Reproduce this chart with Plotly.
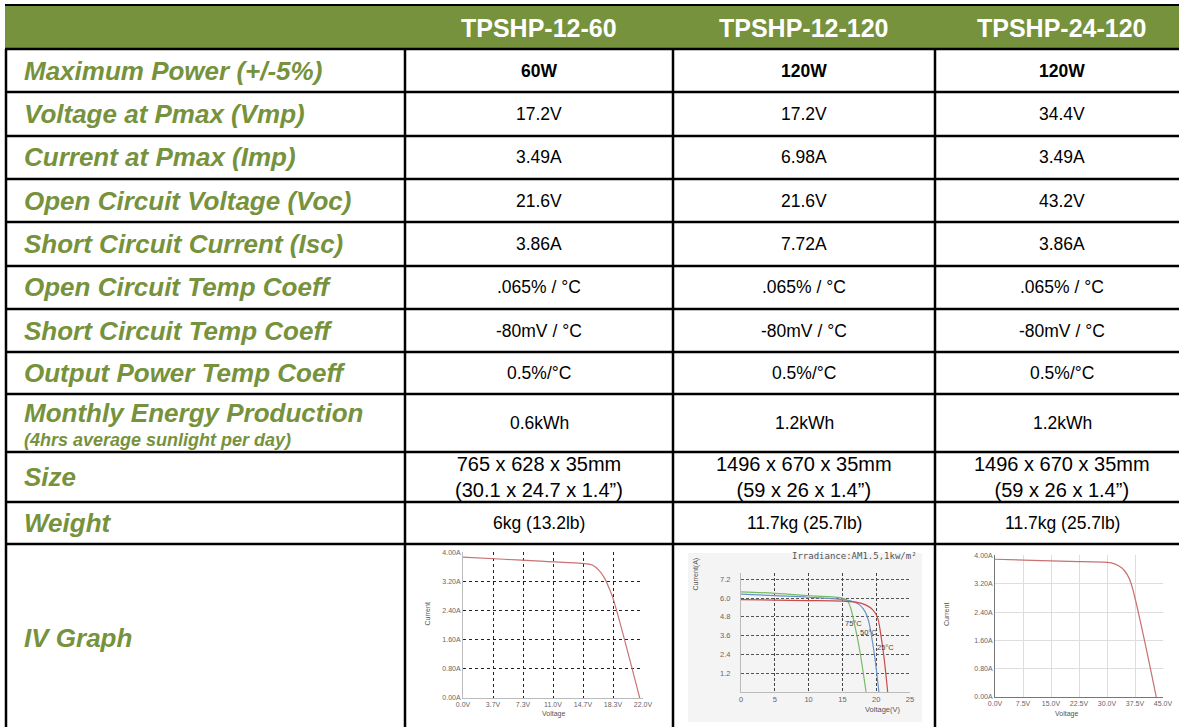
import plotly.graph_objects as go

W, H = 1179, 727

# ---------------- data ----------------
models = ["TPSHP-12-60", "TPSHP-12-120", "TPSHP-24-120"]
spec_labels = ["Maximum Power (+/-5%)", "Voltage at Pmax (Vmp)", "Current at Pmax (Imp)",
               "Open Circuit Voltage (Voc)", "Short Circuit Current (Isc)",
               "Open Circuit Temp Coeff", "Short Circuit Temp Coeff", "Output Power Temp Coeff",
               "Monthly Energy Production", "Size", "Weight", "IV Graph"]
spec_note = "(4hrs average sunlight per day)"
vals_12_60 = ["60W", "17.2V", "3.49A", "21.6V", "3.86A", ".065% / °C", "-80mV / °C", "0.5%/°C",
              "0.6kWh", "765 x 628 x 35mm<br>(30.1 x 24.7 x 1.4”)", "6kg (13.2lb)"]
vals_12_120 = ["120W", "17.2V", "6.98A", "21.6V", "7.72A", ".065% / °C", "-80mV / °C", "0.5%/°C",
               "1.2kWh", "1496 x 670 x 35mm<br>(59 x 26 x 1.4”)", "11.7kg (25.7lb)"]
vals_24_120 = ["120W", "34.4V", "3.49A", "43.2V", "3.86A", ".065% / °C", "-80mV / °C", "0.5%/°C",
               "1.2kWh", "1496 x 670 x 35mm<br>(59 x 26 x 1.4”)", "11.7kg (25.7lb)"]

# IV graph 1 (TPSHP-12-60)
iv1_v = [0, 5, 10, 14.9, 15.8, 16.6, 17.3, 17.9, 18.3, 21.6]
iv1_i = [3.88, 3.82, 3.76, 3.70, 3.66, 3.52, 3.30, 3.00, 2.77, 0]
iv1_xticks = ["0.0V", "3.7V", "7.3V", "11.0V", "14.7V", "18.3V", "22.0V"]
iv1_xvals = [0, 3.667, 7.333, 11.0, 14.667, 18.333, 22.0]
iv_yticks = ["0.00A", "0.80A", "1.60A", "2.40A", "3.20A", "4.00A"]
iv_yvals = [0, 0.8, 1.6, 2.4, 3.2, 4.0]

# IV graph 2 (TPSHP-12-120), temperature curves
t25_v = [0, 5, 10, 15, 17, 18.5, 19.5, 20.2, 20.7, 21.1, 21.7]
t25_i = [5.90, 5.87, 5.84, 5.80, 5.74, 5.55, 5.25, 4.75, 3.6, 2.4, 0]
t50_v = [0, 5, 10, 15, 16.5, 17.6, 18.4, 18.9, 19.3, 19.8, 20.4]
t50_i = [6.25, 6.15, 6.05, 5.90, 5.78, 5.55, 5.1, 4.5, 3.6, 2.2, 0]
t75_v = [0, 5, 10, 15, 15.7, 16.2, 16.7, 17.2, 17.7, 18.5]
t75_i = [6.40, 6.30, 6.15, 6.00, 5.85, 5.40, 4.50, 3.50, 2.30, 0]
iv2_xvals = [0, 5, 10, 15, 20, 25]
iv2_yvals = [1.2, 2.4, 3.6, 4.8, 6.0, 7.2]
iv2_yticks = ["1.2", "2.4", "3.6", "4.8", "6.0", "7.2"]
temp_labels = ["75°C", "50°C", "25°C"]
temp_label_pos = [(16.6, 4.35), (18.8, 3.8), (21.4, 2.85)]

# IV graph 3 (TPSHP-24-120)
iv3_v = [0, 10, 20, 30, 32, 34, 35.5, 36.5, 43.2]
iv3_i = [3.90, 3.87, 3.84, 3.81, 3.77, 3.65, 3.45, 3.20, 0]
iv3_xticks = ["0.0V", "7.5V", "15.0V", "22.5V", "30.0V", "37.5V", "45.0V"]
iv3_xvals = [0, 7.5, 15, 22.5, 30, 37.5, 45]

# ---------------- layout helpers ----------------
GREEN = "#76923C"
FONT = "Arial, Liberation Sans, sans-serif"


def fx(x):
    return x / W


def fy(y):
    return 1 - y / H


row_edges = [49, 92, 136, 179, 222, 266, 309, 352, 394, 452, 502, 544, 727]
col_edges = [6, 405, 673, 935, 1189]
col_centers = [(col_edges[i] + col_edges[i + 1]) / 2 for i in range(1, 4)]

fig = go.Figure()
shapes = []
ann = []

# header band
shapes.append(dict(type="rect", xref="paper", yref="paper", x0=fx(5), x1=fx(1179),
                   y0=fy(49), y1=fy(5), fillcolor=GREEN, line_width=0, layer="below"))
# IV graph 2 light image background
shapes.append(dict(type="rect", xref="paper", yref="paper", x0=fx(688), x1=fx(922),
                   y0=fy(722), y1=fy(553), fillcolor="#f4f4f4", line_width=0, layer="below"))
# horizontal rules
shapes.append(dict(type="line", xref="paper", yref="paper", x0=fx(5), x1=fx(1179),
                   y0=fy(5), y1=fy(5), line=dict(color="black", width=2)))
for y in row_edges[:-1]:
    shapes.append(dict(type="line", xref="paper", yref="paper", x0=fx(5), x1=fx(1179),
                       y0=fy(y), y1=fy(y), line=dict(color="black", width=2.5)))
# vertical rules
for x in col_edges[:-1]:
    shapes.append(dict(type="line", xref="paper", yref="paper", x0=fx(x), x1=fx(x),
                       y0=fy(49), y1=fy(727), line=dict(color="black", width=2.5)))

# header texts
for name, cx in zip(models, col_centers):
    ann.append(dict(text=f"<b>{name}</b>", x=fx(cx), y=fy(28), xref="paper", yref="paper",
                    showarrow=False, font=dict(family=FONT, size=25, color="white"),
                    xanchor="center", yanchor="middle"))

# spec labels
for i, lab in enumerate(spec_labels):
    y0, y1 = row_edges[i], row_edges[i + 1]
    cy = (y0 + y1) / 2
    if lab.startswith("Monthly"):
        cy = 413
        ann.append(dict(text=f"<b><i>{spec_note}</i></b>", x=fx(22), y=fy(440), xref="paper",
                        yref="paper", showarrow=False, xanchor="left", yanchor="middle",
                        font=dict(family=FONT, size=18, color=GREEN)))
    if lab == "IV Graph":
        cy = 638
    ann.append(dict(text=f"<b><i>{lab}</i></b>", x=fx(22), y=fy(cy), xref="paper", yref="paper",
                    showarrow=False, xanchor="left", yanchor="middle",
                    font=dict(family=FONT, size=26, color=GREEN)))

# values
for vals, cx in zip([vals_12_60, vals_12_120, vals_24_120], col_centers):
    for i, v in enumerate(vals):
        cy = (row_edges[i] + row_edges[i + 1]) / 2
        txt = f"<b>{v}</b>" if i == 0 else v
        size = 20 if "<br>" in v else 17.5
        ann.append(dict(text=txt, x=fx(cx), y=fy(cy), xref="paper", yref="paper",
                        showarrow=False, xanchor="center", yanchor="middle",
                        font=dict(family=FONT, size=size, color="black")))

# ---------------- IV graphs ----------------
RED = "#c87272"
fig.add_trace(go.Scatter(x=iv1_v, y=iv1_i, mode="lines", line=dict(color=RED, width=1.2),
                         xaxis="x", yaxis="y", showlegend=False, line_shape="spline"))
fig.add_trace(go.Scatter(x=t75_v, y=t75_i, mode="lines", line=dict(color="#77bb66", width=1.2),
                         xaxis="x2", yaxis="y2", showlegend=False, line_shape="spline"))
fig.add_trace(go.Scatter(x=t50_v, y=t50_i, mode="lines", line=dict(color="#6a93c8", width=1.2),
                         xaxis="x2", yaxis="y2", showlegend=False, line_shape="spline"))
fig.add_trace(go.Scatter(x=t25_v, y=t25_i, mode="lines", line=dict(color="#cc4a4a", width=1.2),
                         xaxis="x2", yaxis="y2", showlegend=False, line_shape="spline"))
fig.add_trace(go.Scatter(x=iv3_v, y=iv3_i, mode="lines", line=dict(color=RED, width=1.2),
                         xaxis="x3", yaxis="y3", showlegend=False, line_shape="spline"))

tickf = dict(family=FONT, size=7, color="#666")
small = dict(family=FONT, size=7, color="#555")
common = dict(zeroline=False, fixedrange=True, automargin=False, ticks="")

layout_axes = dict(
    xaxis=dict(domain=[fx(463), fx(643)], range=[0, 22], tickvals=iv1_xvals, ticktext=iv1_xticks,
               tickfont=tickf, showgrid=True, gridcolor="#222", griddash="dot", gridwidth=1.4,
               showline=True, linecolor="#bbb", anchor="y", **common),
    yaxis=dict(domain=[fy(698), fy(552)], range=[0, 4.02], tickvals=iv_yvals, ticktext=iv_yticks,
               tickfont=tickf, showgrid=True, gridcolor="#222", griddash="dot", gridwidth=1.4,
               showline=True, linecolor="#bbb", anchor="x", **common),
    xaxis2=dict(domain=[fx(741), fx(910)], range=[0, 25], tickvals=iv2_xvals,
                tickfont=dict(family=FONT, size=7.5, color="#666"), showgrid=True, gridcolor="#444",
                griddash="3px,2px", gridwidth=1, showline=True, linecolor="#bbb",
                anchor="y2", **common),
    yaxis2=dict(domain=[fy(692), fy(573)], range=[0, 7.6], tickvals=iv2_yvals,
                ticktext=iv2_yticks,
                tickfont=dict(family=FONT, size=7.5, color="#666"), showgrid=True, gridcolor="#555",
                griddash="3px,2px", gridwidth=1, showline=True, linecolor="#bbb",
                anchor="x2", ticklabelstandoff=8, **common),
    xaxis3=dict(domain=[fx(995), fx(1163)], range=[0, 45], tickvals=iv3_xvals, ticktext=iv3_xticks,
                tickfont=tickf, showgrid=True, gridcolor="#ddd", gridwidth=1, showline=True,
                linecolor="#777", anchor="y3", **common),
    yaxis3=dict(domain=[fy(697), fy(555)], range=[0, 4.02], tickvals=iv_yvals, ticktext=iv_yticks,
                tickfont=tickf, showgrid=True, gridcolor="#ddd", gridwidth=1, showline=True,
                linecolor="#777", anchor="x3", **common),
)

# axis titles and labels for IV graphs
ann += [
    dict(text="Current", x=fx(427), y=fy(628), xref="paper", yref="paper", showarrow=False,
         textangle=-90, font=small),
    dict(text="Voltage", x=fx(553), y=fy(720), xref="paper", yref="paper", showarrow=False,
         font=small),
    dict(text="Current", x=fx(952), y=fy(628), xref="paper", yref="paper", showarrow=False,
         textangle=-90, font=small),
    dict(text="Voltage", x=fx(1080), y=fy(720), xref="paper", yref="paper", showarrow=False,
         font=small),
    dict(text="Current(A)", x=fx(695), y=fy(593), xref="paper", yref="paper", showarrow=False,
         textangle=-90, font=small),
    dict(text="Voltage(V)", x=fx(903), y=fy(716), xref="paper", yref="paper", showarrow=False,
         font=dict(family=FONT, size=7.5, color="#555")),
    dict(text="Irradiance:AM1.5,1kw/m²", x=fx(919), y=fy(563), xref="paper", yref="paper",
         showarrow=False, xanchor="right", font=dict(family="DejaVu Sans Mono, monospace", size=9,
                                                      color="#555")),
]
for lab, (vx, vy) in zip(temp_labels, temp_label_pos):
    ann.append(dict(text=lab, x=vx, y=vy, xref="x2", yref="y2", showarrow=False,
                    font=dict(family=FONT, size=7.5, color="#444")))

fig.update_layout(
    width=W, height=H, autosize=False,
    margin=dict(l=0, r=0, t=0, b=0, pad=0, autoexpand=False),
    paper_bgcolor="white", plot_bgcolor="rgba(0,0,0,0)",
    shapes=shapes, annotations=ann, showlegend=False,
    **layout_axes,
)

fig.write_html("out.html", config={"displayModeBar": False},
               post_script="document.body.style.margin='0';document.body.style.overflow='hidden';")
